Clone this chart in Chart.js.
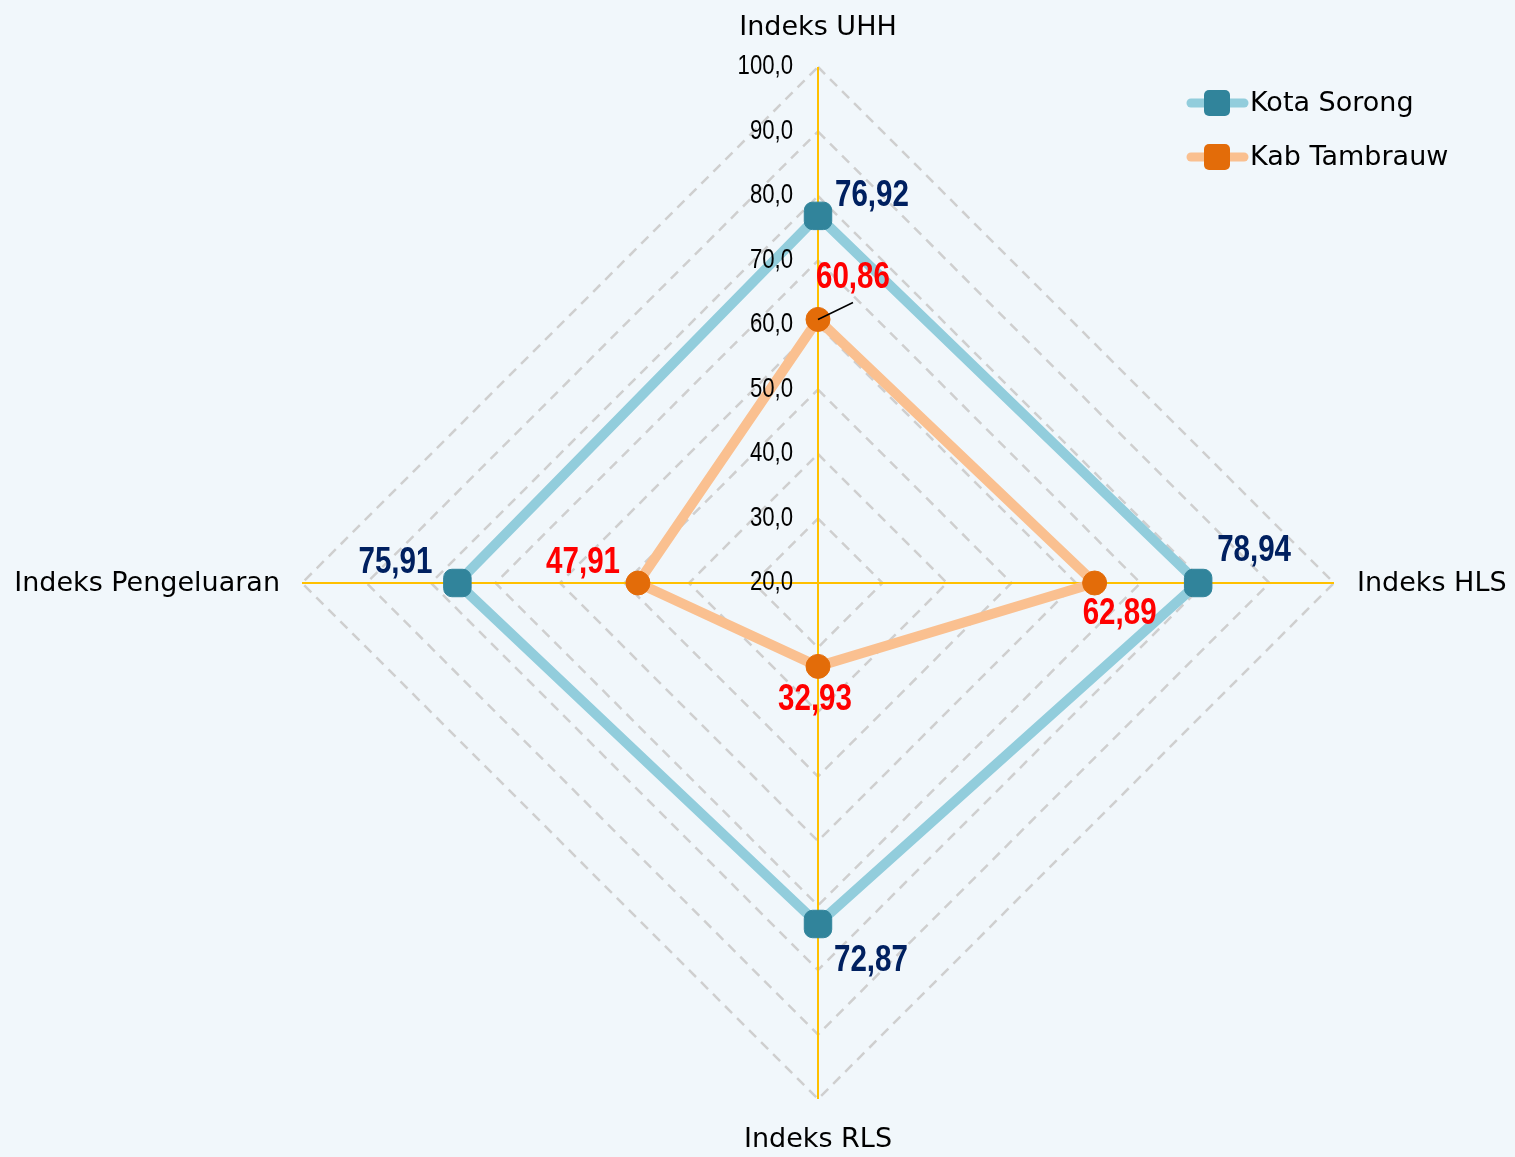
<!DOCTYPE html>
<html>
<head>
<meta charset="utf-8">
<script src="https://cdn.jsdelivr.net/npm/chart.js@4.4.0/dist/chart.umd.min.js"></script>
<style>
  html, body { margin: 0; padding: 0; background: #F1F7FB; }
  #wrap { width: 1515px; height: 1157px; }
</style>
</head>
<body>
<div id="wrap"><canvas id="chart" width="1515" height="1157"></canvas></div>
<script>
const categories = ["Indeks UHH", "Indeks HLS", "Indeks RLS", "Indeks Pengeluaran"];
const seriesNames = ["Kota Sorong", "Kab Tambrauw"];
const kotaSorong = [76.92, 78.94, 72.87, 75.91];
const kabTambrauw = [60.86, 62.89, 32.93, 47.91];
const tickValues = [20, 30, 40, 50, 60, 70, 80, 90, 100];

const colors = {
  sorongLine: "#92CDDC",
  sorongMark: "#31849B",
  tambLine: "#FAC090",
  tambMark: "#E36C09",
  sorongText: "#002060",
  tambText: "#FF0000",
  grid: "#CFCFCF",
  axis: "#FFC000"
};

// where each value label sits relative to its point: [align, dx, dy]
const sorongLabelPos = [["left", 17, -20], ["left", 19, -32], ["left", 16, 37], ["right", -25, -20]];
const tambLabelPos = [["left", -2, -41], ["center", 25, 31], ["center", -3, 34], ["right", -18, -20]];

function fmt(v, d) {
  return v.toFixed(d).replace(".", ",");
}

// Arial Narrow look: Liberation Sans squeezed horizontally
function narrowText(ctx, text, x, y, size, weight, align, color) {
  ctx.save();
  ctx.font = weight + " " + size + "px 'Liberation Sans', Arial, sans-serif";
  ctx.fillStyle = color;
  ctx.textBaseline = "middle";
  ctx.textAlign = align;
  ctx.translate(x, y);
  ctx.scale(0.82, 1);
  ctx.fillText(text, 0, 0);
  ctx.restore();
}

function roundSquare(ctx, x, y, size, color) {
  ctx.save();
  ctx.fillStyle = color;
  ctx.beginPath();
  ctx.roundRect(x - size / 2, y - size / 2, size, size, 5);
  ctx.fill();
  ctx.restore();
}

const overlay = {
  id: "overlay",
  afterDraw(chart) {
    const ctx = chart.ctx;
    const r = chart.scales.r;

    // tick labels left of the vertical axis
    tickValues.forEach((v) => {
      const y = r.yCenter - r.getDistanceFromCenterForValue(v);
      narrowText(ctx, fmt(v, 1), r.xCenter - 25, y, 27, "normal", "right", "#000");
    });

    // category labels
    ctx.save();
    ctx.font = "27px 'DejaVu Sans', sans-serif";
    ctx.fillStyle = "#000";
    ctx.textBaseline = "middle";
    const gaps = [40, 23, 40, 22];
    const aligns = ["center", "left", "center", "right"];
    categories.forEach((c, i) => {
      const p = r.getPointPosition(i, r.drawingArea + gaps[i]);
      ctx.textAlign = aligns[i];
      ctx.fillText(c, p.x, p.y + 1);
    });
    ctx.restore();

    // value labels
    const sets = [
      { data: kotaSorong, pos: sorongLabelPos, color: colors.sorongText },
      { data: kabTambrauw, pos: tambLabelPos, color: colors.tambText }
    ];
    sets.forEach((s, d) => {
      const pts = chart.getDatasetMeta(d).data;
      s.data.forEach((v, i) => {
        const [align, dx, dy] = s.pos[i];
        narrowText(ctx, fmt(v, 2), pts[i].x + dx, pts[i].y + dy, 36, "bold", align, s.color);
      });
    });

    // leader line for the UHH Tambrauw label
    const p0 = chart.getDatasetMeta(1).data[0];
    ctx.save();
    ctx.strokeStyle = "#000";
    ctx.lineWidth = 1.5;
    ctx.beginPath();
    ctx.moveTo(p0.x, p0.y);
    ctx.lineTo(p0.x + 35, p0.y - 17);
    ctx.stroke();
    ctx.restore();

    // legend
    const legend = [
      { name: seriesNames[0], line: colors.sorongLine, mark: colors.sorongMark, y: 103 },
      { name: seriesNames[1], line: colors.tambLine, mark: colors.tambMark, y: 157 }
    ];
    legend.forEach((l) => {
      ctx.save();
      ctx.strokeStyle = l.line;
      ctx.lineWidth = 9;
      ctx.lineCap = "round";
      ctx.beginPath();
      ctx.moveTo(1191, l.y);
      ctx.lineTo(1244, l.y);
      ctx.stroke();
      ctx.restore();
      roundSquare(ctx, 1217, l.y, 26, l.mark);
      ctx.save();
      ctx.font = "27px 'DejaVu Sans', sans-serif";
      ctx.fillStyle = "#000";
      ctx.textBaseline = "middle";
      ctx.textAlign = "left";
      ctx.fillText(l.name, 1250, l.y + 1);
      ctx.restore();
    });
  }
};

const ctx = document.getElementById("chart").getContext("2d");
const chart = new Chart(ctx, {
  type: "radar",
  data: {
    labels: categories,
    datasets: [
      {
        label: seriesNames[0],
        data: kotaSorong,
        borderColor: colors.sorongLine,
        borderWidth: 10,
        fill: false,
        pointStyle: "rectRounded",
        pointRadius: 16,
        pointBackgroundColor: colors.sorongMark,
        pointBorderColor: colors.sorongMark,
        pointBorderWidth: 1
      },
      {
        label: seriesNames[1],
        data: kabTambrauw,
        borderColor: colors.tambLine,
        borderWidth: 10,
        fill: false,
        pointStyle: "circle",
        pointRadius: 12,
        pointBackgroundColor: colors.tambMark,
        pointBorderColor: colors.tambMark,
        pointBorderWidth: 1
      }
    ]
  },
  options: {
    responsive: false,
    animation: false,
    layout: {
      padding: { left: 302, right: 181, top: 67, bottom: 58 }
    },
    plugins: {
      legend: { display: false },
      tooltip: { enabled: false }
    },
    scales: {
      r: {
        min: 20,
        max: 100,
        ticks: { display: false, stepSize: 10 },
        pointLabels: { display: false },
        grid: { color: colors.grid, lineWidth: 2.5 },
        border: { dash: [10, 7] },
        angleLines: { color: colors.axis, lineWidth: 2 }
      }
    }
  },
  plugins: [overlay]
});
</script>
</body>
</html>
